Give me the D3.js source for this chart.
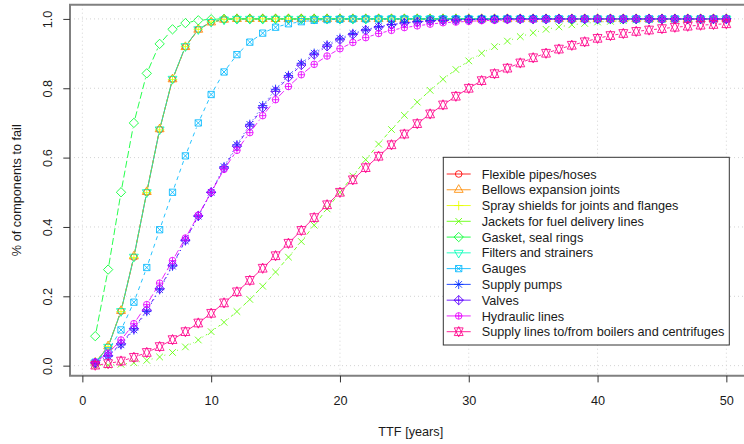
<!DOCTYPE html>
<html>
<head>
<meta charset="utf-8">
<title>TTF curves</title>
<script src="https://d3js.org/d3.v7.min.js"></script>
<style>
  body { margin: 0; background: #fff; }
  text { font-family: "Liberation Sans", Arial, sans-serif; font-size: 12.7px; fill: #1a1a1a; }
</style>
</head>
<body>
<script>
// years on the x axis
var years = [1, 2, 3, 4, 5, 6, 7, 8, 9, 10,
  11, 12, 13, 14, 15, 16, 17, 18, 19, 20,
  21, 22, 23, 24, 25, 26, 27, 28, 29, 30,
  31, 32, 33, 34, 35, 36, 37, 38, 39, 40,
  41, 42, 43, 44, 45, 46, 47, 48, 49, 50];

var names = ["Flexible pipes/hoses", "Bellows expansion joints", "Spray shields for joints and flanges",
  "Jackets for fuel delivery lines", "Gasket, seal rings", "Filters and strainers", "Gauges",
  "Supply pumps", "Valves", "Hydraulic lines", "Supply lines to/from boilers and centrifuges"];

// share of components failed
var flexible = [0.008, 0.054, 0.157, 0.313, 0.500, 0.681, 0.826, 0.920, 0.970, 0.991,
  0.998, 1.000, 1, 1, 1, 1, 1, 1, 1, 1,
  1, 1, 1, 1, 1, 1, 1, 1, 1, 1,
  1, 1, 1, 1, 1, 1, 1, 1, 1, 1,
  1, 1, 1, 1, 1, 1, 1, 1, 1, 1];
var bellows = [0.009, 0.056, 0.158, 0.315, 0.501, 0.682, 0.826, 0.919, 0.969, 0.990,
  0.998, 1.000, 1, 1, 1, 1, 1, 1, 1, 1,
  1, 1, 1, 1, 1, 1, 1, 1, 1, 1,
  1, 1, 1, 1, 1, 1, 1, 1, 1, 1,
  1, 1, 1, 1, 1, 1, 1, 1, 1, 1];
var spray = [0.008, 0.055, 0.156, 0.312, 0.499, 0.680, 0.825, 0.920, 0.970, 0.991,
  0.998, 1.000, 1, 1, 1, 1, 1, 1, 1, 1,
  1, 1, 1, 1, 1, 1, 1, 1, 1, 1,
  1, 1, 1, 1, 1, 1, 1, 1, 1, 1,
  1, 1, 1, 1, 1, 1, 1, 1, 1, 1];
var jackets = [0.0002, 0.0012, 0.0038, 0.0083, 0.0152, 0.025, 0.038, 0.054, 0.074, 0.098,
  0.125, 0.156, 0.191, 0.229, 0.270, 0.313, 0.358, 0.405, 0.452, 0.500,
  0.547, 0.594, 0.639, 0.681, 0.722, 0.760, 0.794, 0.826, 0.854, 0.879,
  0.901, 0.920, 0.936, 0.949, 0.960, 0.970, 0.977, 0.983, 0.987, 0.991,
  0.993, 0.995, 0.997, 0.998, 0.998, 0.999, 0.999, 1, 1, 1];
var gasket = [0.085, 0.277, 0.500, 0.700, 0.843, 0.928, 0.970, 0.988, 0.996, 0.999,
  1, 1, 1, 1, 1, 1, 1, 1, 1, 1,
  1, 1, 1, 1, 1, 1, 1, 1, 1, 1,
  1, 1, 1, 1, 1, 1, 1, 1, 1, 1,
  1, 1, 1, 1, 1, 1, 1, 1, 1, 1];
var filters = [0.008, 0.054, 0.157, 0.314, 0.500, 0.681, 0.827, 0.921, 0.970, 0.991,
  0.998, 1.000, 1, 1, 1, 1, 1, 1, 1, 1,
  1, 1, 1, 1, 1, 1, 1, 1, 1, 1,
  1, 1, 1, 1, 1, 1, 1, 1, 1, 1,
  1, 1, 1, 1, 1, 1, 1, 1, 1, 1];
var gauges = [0.010, 0.043, 0.103, 0.183, 0.283, 0.392, 0.500, 0.605, 0.700, 0.782,
  0.847, 0.897, 0.933, 0.959, 0.976, 0.986, 0.992, 0.996, 0.998, 0.999,
  1, 1, 1, 1, 1, 1, 1, 1, 1, 1,
  1, 1, 1, 1, 1, 1, 1, 1, 1, 1,
  1, 1, 1, 1, 1, 1, 1, 1, 1, 1];
var pumps = [0.007, 0.027, 0.060, 0.103, 0.156, 0.219, 0.287, 0.360, 0.431, 0.500,
  0.574, 0.637, 0.696, 0.750, 0.797, 0.837, 0.872, 0.901, 0.925, 0.944,
  0.958, 0.969, 0.978, 0.984, 0.989, 0.992, 0.995, 0.996, 0.997, 0.998,
  0.999, 0.999, 1, 1, 1, 1, 1, 1, 1, 1,
  1, 1, 1, 1, 1, 1, 1, 1, 1, 1];
var valves = [0.008, 0.029, 0.063, 0.107, 0.160, 0.222, 0.290, 0.362, 0.432, 0.500,
  0.570, 0.633, 0.691, 0.744, 0.791, 0.832, 0.867, 0.897, 0.921, 0.940,
  0.955, 0.967, 0.976, 0.983, 0.988, 0.991, 0.994, 0.996, 0.997, 0.998,
  0.999, 0.999, 1, 1, 1, 1, 1, 1, 1, 1,
  1, 1, 1, 1, 1, 1, 1, 1, 1, 1];
var hydraulic = [0.010, 0.036, 0.074, 0.121, 0.176, 0.238, 0.303, 0.368, 0.434, 0.500,
  0.566, 0.621, 0.672, 0.721, 0.767, 0.805, 0.839, 0.869, 0.893, 0.914,
  0.932, 0.946, 0.958, 0.967, 0.975, 0.980, 0.985, 0.989, 0.991, 0.993,
  0.995, 0.996, 0.997, 0.998, 0.998, 0.999, 0.999, 1, 1, 1,
  1, 1, 1, 1, 1, 1, 1, 1, 1, 1];
var supplyLines = [0.0014, 0.0058, 0.0133, 0.024, 0.038, 0.055, 0.075, 0.098, 0.123, 0.151,
  0.181, 0.213, 0.246, 0.281, 0.317, 0.353, 0.390, 0.427, 0.464, 0.500,
  0.536, 0.571, 0.604, 0.637, 0.668, 0.698, 0.726, 0.752, 0.777, 0.800,
  0.822, 0.842, 0.858, 0.873, 0.888, 0.901, 0.913, 0.924, 0.934, 0.944,
  0.952, 0.958, 0.964, 0.968, 0.972, 0.976, 0.979, 0.982, 0.984, 0.986];

var xTicks = [0, 10, 20, 30, 40, 50];
var yTicks = [0, 0.2, 0.4, 0.6, 0.8, 1.0];

var series = [flexible, bellows, spray, jackets, gasket, filters, gauges, pumps, valves, hydraulic, supplyLines];

// R rainbow(11) palette and matplot line types 1:5
var colors = ["#FF0000", "#FF8B00", "#E8FF00", "#5DFF00", "#00FF2E", "#00FFB9",
  "#00B9FF", "#002EFF", "#5D00FF", "#E800FF", "#FF008B"];
var dashes = [null, "4,4", "1,3", "1,3,4,3", "7,3"];

var W = 744, H = 444;
var pLeft = 70, pRight = 751.6, pTop = 4.7, pBottom = 375.7;

var x = d3.scaleLinear().domain([-0.96, 51.96]).range([pLeft, pRight]);
var y = d3.scaleLinear().domain([-0.029, 1.041]).range([pBottom, pTop]);

var svg = d3.select("body").append("svg").attr("width", W).attr("height", H);
svg.append("rect").attr("width", W).attr("height", H).attr("fill", "#fff");

// grid
var grid = svg.append("g").attr("stroke", "#d3d3d3").attr("stroke-dasharray", "1,3").attr("stroke-width", 1);
grid.selectAll(".gx").data(xTicks).join("line")
  .attr("class", "gx")
  .attr("x1", d => x(d)).attr("x2", d => x(d)).attr("y1", pTop).attr("y2", pBottom);
grid.selectAll(".gy").data(yTicks).join("line")
  .attr("class", "gy")
  .attr("y1", d => y(d)).attr("y2", d => y(d)).attr("x1", pLeft).attr("x2", pRight);

// R pch symbols 1..11
function symbol(pch) {
  var s = 3.3, p = d3.path();
  var r, a, b;
  function seg(x0, y0, x1, y1) { p.moveTo(x0, y0); p.lineTo(x1, y1); }
  function plus(k) { seg(-k, 0, k, 0); seg(0, -k, 0, k); }
  function times(k) { seg(-k, -k, k, k); seg(-k, k, k, -k); }
  function circle(k) { p.moveTo(k, 0); p.arc(0, 0, k, 0, 2 * Math.PI); }
  function diamond(k) { p.moveTo(0, -k); p.lineTo(k, 0); p.lineTo(0, k); p.lineTo(-k, 0); p.closePath(); }
  switch (pch) {
    case 1: circle(s); break;
    case 2: r = 1.555 * s; p.moveTo(0, -r); p.lineTo(0.866 * r, 0.5 * r); p.lineTo(-0.866 * r, 0.5 * r); p.closePath(); break;
    case 3: plus(1.414 * s); break;
    case 4: times(s); break;
    case 5: diamond(1.414 * s); break;
    case 6: r = 1.555 * s; p.moveTo(0, r); p.lineTo(0.866 * r, -0.5 * r); p.lineTo(-0.866 * r, -0.5 * r); p.closePath(); break;
    case 7: a = 0.95 * s; p.rect(-a, -a, 2 * a, 2 * a); times(a); break;
    case 8: times(s); plus(1.414 * s); break;
    case 9: diamond(1.414 * s); plus(1.414 * s); break;
    case 10: circle(s); plus(s); break;
    case 11:
      r = 1.555 * s; a = 0.866 * r; b = 0.75 * r;
      p.moveTo(0, -r); p.lineTo(a, b); p.lineTo(-a, b); p.closePath();
      p.moveTo(0, r); p.lineTo(a, -b); p.lineTo(-a, -b); p.closePath();
      break;
  }
  return p.toString();
}

// type = "b": lines with gaps around the points
var gap = 5;
var plot = svg.append("g").attr("stroke-opacity", 0.85);
series.forEach(function (vals, i) {
  var pts = years.map((yr, j) => [x(yr), y(vals[j])]);
  var segs = d3.pairs(pts).map(function (pr) {
    var dx = pr[1][0] - pr[0][0], dy = pr[1][1] - pr[0][1];
    var L = Math.hypot(dx, dy);
    if (L <= 2 * gap) return null;
    var f = gap / L;
    return [pr[0][0] + f * dx, pr[0][1] + f * dy, pr[1][0] - f * dx, pr[1][1] - f * dy];
  }).filter(d => d);
  var g = plot.append("g").attr("stroke", colors[i]).attr("fill", "none").attr("stroke-width", 1);
  g.selectAll("line").data(segs).join("line")
    .attr("x1", d => d[0]).attr("y1", d => d[1]).attr("x2", d => d[2]).attr("y2", d => d[3])
    .attr("stroke-dasharray", dashes[i % 5]);
  g.selectAll("path").data(pts).join("path")
    .attr("transform", d => "translate(" + d[0] + "," + d[1] + ")")
    .attr("d", symbol(i + 1));
});

// frame
svg.append("path")
  .attr("d", "M" + (W + 10) + "," + pTop + "H" + pLeft + "V" + pBottom + "H" + (W + 10))
  .attr("fill", "none").attr("stroke", "#808080").attr("stroke-width", 2);

// axes
var xAxis = svg.append("g").attr("transform", "translate(0," + pBottom + ")")
  .call(d3.axisBottom(x).tickValues(xTicks).tickSize(6.7).tickPadding(13.3).tickFormat(d3.format("d")));
xAxis.select(".domain").remove();
xAxis.selectAll("line").attr("stroke", "#333");
xAxis.attr("font-size", null).attr("font-family", null);

var yAxis = svg.append("g").attr("transform", "translate(" + pLeft + ",0)")
  .call(d3.axisLeft(y).tickValues(yTicks).tickSize(6.7).tickFormat(d3.format(".1f")));
yAxis.select(".domain").remove();
yAxis.selectAll("line").attr("stroke", "#333");
yAxis.attr("font-size", null).attr("font-family", null);
yAxis.selectAll("text")
  .attr("x", null).attr("dy", null)
  .attr("text-anchor", "middle")
  .attr("transform", "translate(" + (51.5 - pLeft) + ",0) rotate(-90)");

svg.append("text").attr("x", (pLeft + pRight) / 2).attr("y", 435.7)
  .attr("text-anchor", "middle").text("TTF [years]");
svg.append("text").attr("transform", "translate(20.5," + (pTop + pBottom) / 2 + ") rotate(-90)")
  .attr("text-anchor", "middle").text("% of components to fail");

// legend
var lg = svg.append("g");
lg.append("rect").attr("x", 443.3).attr("y", 157.3).attr("width", 286).attr("height", 187.7)
  .attr("fill", "#fff").attr("stroke", "#333").attr("stroke-width", 1);
var rows = lg.selectAll(".row").data(names).join("g")
  .attr("class", "row")
  .attr("transform", (d, i) => "translate(0," + (174 + i * 15.77) + ")");
rows.append("line").attr("x1", 446.7).attr("x2", 470.7)
  .attr("stroke", (d, i) => colors[i]).attr("stroke-width", 1).attr("stroke-opacity", 0.85);
rows.append("path").attr("transform", "translate(458.7,0)")
  .attr("d", (d, i) => symbol(i + 1))
  .attr("fill", "none").attr("stroke", (d, i) => colors[i]).attr("stroke-opacity", 0.85);
rows.append("text").attr("x", 481.7).attr("y", 4.6).text(d => d);
</script>
</body>
</html>
